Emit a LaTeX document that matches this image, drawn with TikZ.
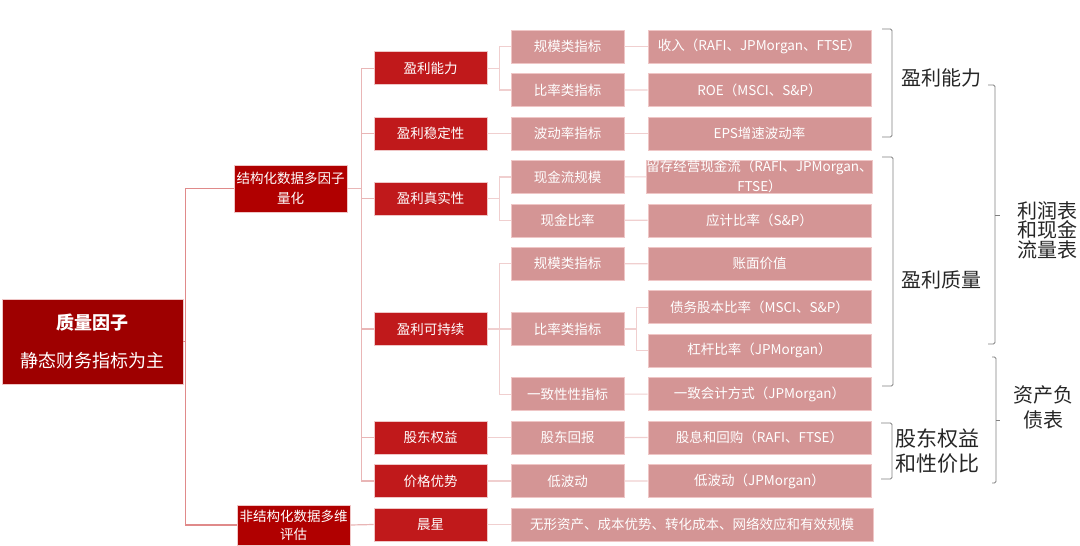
\documentclass[tikz,border=0pt]{standalone}
\usepackage{fontspec}
\setmainfont{Noto Sans CJK SC}
\definecolor{rootred}{HTML}{9E0000}
\definecolor{midred}{HTML}{B00000}
\definecolor{boxred}{HTML}{C0191B}
\definecolor{boxpink}{HTML}{D49595}
\definecolor{edgepink}{HTML}{EFC6C6}
\definecolor{rootline}{HTML}{E08A8A}
\definecolor{linkpink}{HTML}{E9B6B6}
\definecolor{subpink}{HTML}{F0CFCF}

\begin{document}
\begin{tikzpicture}[x=1pt, y=-1pt,
    redbox/.style={fill=boxred, draw=edgepink, line width=0.6pt, text=white, minimum width=113, minimum height=33, inner sep=0pt, font=\fontsize{13.5}{20}\selectfont},
    pinkbox/.style={fill=boxpink, draw=edgepink, line width=0.6pt, text=white, minimum width=113, minimum height=33, inner sep=0pt, align=center, font=\fontsize{13.5}{20}\selectfont},
    link/.style={line width=1.2pt, linkpink},
    bracket/.style={draw=black!50, line width=0.8pt, rounded corners=1.5pt},
    side/.style={text=black!85, inner sep=0pt, align=center}]
  \useasboundingbox (0,0) rectangle (1080,546);

  % root and first level
  \node[fill=rootred, draw=edgepink, line width=0.6pt, text=white, minimum width=181, minimum height=85, inner sep=0pt, align=center, font=\fontsize{18}{18}\selectfont] (root) at (92.5,341.5) {\textbf{质量因子}\\[20pt]静态财务指标为主};
  \node[fill=midred, draw=edgepink, line width=0.6pt, text=white, minimum width=113, minimum height=47, inner sep=0pt, align=center, font=\fontsize{13.5}{20}\selectfont] (s1) at (290.5,188.5) {结构化数据多因子\\量化};
  \node[fill=midred, draw=edgepink, line width=0.6pt, text=white, minimum width=113, minimum height=40, inner sep=0pt, align=center, font=\fontsize{13.5}{18}\selectfont] (s2) at (293.5,525) {非结构化数据多维\\评估};

  % second level
  \node[redbox] (a1) at (430.5,68.2) {盈利能力};
  \node[redbox] (a2) at (430.5,133.4) {盈利稳定性};
  \node[redbox] (a3) at (430.5,198.6) {盈利真实性};
  \node[redbox] (a4) at (430.5,329) {盈利可持续};
  \node[redbox] (a5) at (430.5,437.6) {股东权益};
  \node[redbox] (a6) at (430.5,481) {价格优势};
  \node[redbox] (a7) at (430.5,524.5) {晨星};

  % third level
  \node[pinkbox] (b1) at (567.5,46.5) {规模类指标};
  \node[pinkbox] (b2) at (567.5,90) {比率类指标};
  \node[pinkbox] (b3) at (567.5,133.4) {波动率指标};
  \node[pinkbox] (b4) at (567.5,176.9) {现金流规模};
  \node[pinkbox] (b5) at (567.5,220.3) {现金比率};
  \node[pinkbox] (b6) at (567.5,263.8) {规模类指标};
  \node[pinkbox] (b7) at (567.5,329) {比率类指标};
  \node[pinkbox] (b8) at (567.5,394.1) {一致性性指标};
  \node[pinkbox] (b9) at (567.5,437.6) {股东回报};
  \node[pinkbox] (b10) at (567.5,481) {低波动};

  % fourth level
  \foreach \i/\t in {1/{收入（RAFI、JPMorgan、FTSE）}, 2/{ROE（MSCI、S\&P）}, 3/{EPS增速波动率},
      4/{留存经营现金流（RAFI、JPMorgan、\\FTSE）}, 5/{应计比率（S\&P）}, 6/{账面价值},
      7/{债务股本比率（MSCI、S\&P）}, 8/{杠杆比率（JPMorgan）}, 9/{一致会计方式（JPMorgan）},
      10/{股息和回购（RAFI、FTSE）}, 11/{低波动（JPMorgan）}}
    \node[pinkbox, minimum width=223] (c\i) at (759.5,46.5+43.45*\i-43.45) {\t};
  \node[pinkbox, minimum width=362] (d) at (692,524.5) {无形资产、成本优势、转化成本、网络效应和有效规模};

  % connectors
  \draw[link, rootline] (root.east) -- ++(2,0) |- (s1.west);
  \draw[link, rootline] (root.east) -- ++(2,0) |- (s2.west);
  \foreach \a in {a1,a2,a3,a4,a5,a6}
    \draw[link] (s1.east) -- ++(14,0) |- (\a.west);
  \draw[link] (s2.east) -- (a7.west);
  \foreach \a/\b in {a1/b1, a1/b2, a3/b4, a3/b5, a4/b6, a4/b7, a4/b8}
    \draw[link, subpink] (\a.east) -- ++(12,0) |- (\b.west);
  \foreach \a/\b in {a2/b3, a5/b9, a6/b10, a7/d}
    \draw[link, subpink] (\a.east) -- (\b.west);
  \foreach \b/\c in {b1/c1, b2/c2, b3/c3, b4/c4, b5/c5, b6/c6, b8/c9, b9/c10, b10/c11}
    \draw[link, subpink] (\b.east) -- (\c.west);
  \draw[link, subpink] (b7.east) -- ++(12,0) |- (c7.west);
  \draw[link, subpink] (b7.east) -- ++(12,0) |- (c8.west);

  % brackets on the right
  \draw[bracket] (882,29) -- (892,29) -- (892,137) -- (882,137);
  \draw[bracket] (882,157) -- (893,157) -- (893,386) -- (882,386);
  \draw[bracket] (881,423) -- (892,423) -- (892,479) -- (881,479);
  \draw[bracket] (988,85) -- (995,85) -- (995,344) -- (988,344);
  \draw[bracket] (995,215) -- (1000,215);
  \draw[bracket] (992,357) -- (996,357) -- (996,483) -- (992,483);
  \draw[bracket] (996,420) -- (1000,420);
  \node[side, font=\fontsize{20}{20}\selectfont] (g1) at (941,78) {盈利能力};
  \node[side, font=\fontsize{20}{20}\selectfont] (g2) at (941,280) {盈利质量};
  \node[side, font=\fontsize{21}{25}\selectfont] (g3) at (937,451.5) {股东权益\\和性价比};
  \node[side, font=\fontsize{20}{19.5}\selectfont] (g4) at (1047,230) {利润表\\和现金\\流量表};
  \node[side, font=\fontsize{20}{25}\selectfont] (g5) at (1043,407.5) {资产负\\债表};
\end{tikzpicture}
\end{document}
